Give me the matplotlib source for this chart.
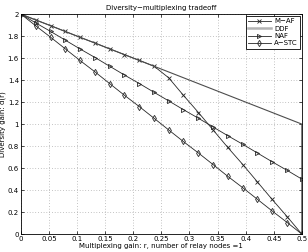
import matplotlib
matplotlib.use('Agg')
import matplotlib.pyplot as plt
import numpy as np

# Multiplexing gain samples (20 points between 0 and 0.5)
r = [0, 0.026, 0.053, 0.079, 0.105, 0.132, 0.158, 0.184, 0.211, 0.237,
     0.263, 0.289, 0.316, 0.342, 0.368, 0.395, 0.421, 0.447, 0.474, 0.5]

m_af = [2, 1.947, 1.895, 1.842, 1.789, 1.737, 1.684, 1.632, 1.579, 1.526,
        1.421, 1.263, 1.105, 0.947, 0.789, 0.632, 0.474, 0.316, 0.158, 0]
naf = [2, 1.921, 1.842, 1.763, 1.684, 1.605, 1.526, 1.447, 1.368, 1.289,
       1.211, 1.132, 1.053, 0.974, 0.895, 0.816, 0.737, 0.658, 0.579, 0.5]
a_stc = [2, 1.895, 1.789, 1.684, 1.579, 1.474, 1.368, 1.263, 1.158, 1.053,
         0.947, 0.842, 0.737, 0.632, 0.526, 0.421, 0.316, 0.211, 0.105, 0]
ddf_r = [0, 0.5, 0.5]
ddf = [2, 1, 0]

xticks = [0, 0.05, 0.1, 0.15, 0.2, 0.25, 0.3, 0.35, 0.4, 0.45, 0.5]
xticklabels = ['0', '0.05', '0.1', '0.15', '0.2', '0.25', '0.3', '0.35', '0.4', '0.45', '0.5']
yticks = [0, 0.2, 0.4, 0.6, 0.8, 1.0, 1.2, 1.4, 1.6, 1.8, 2.0]
yticklabels = ['0', '0.2', '0.4', '0.6', '0.8', '1', '1.2', '1.4', '1.6', '1.8', '2']

fig = plt.figure(figsize=(3.08, 2.52), dpi=100)
ax = fig.add_axes([0.068, 0.071, 0.912, 0.873])

lc = '0.15'
ax.plot(r, m_af, color=lc, lw=0.6, marker='x', ms=2.5, mew=0.6, label='M\u2212AF')
ax.plot(ddf_r, ddf, color='0.3', lw=0.8, label='DDF')
ax.plot(r, naf, color=lc, lw=0.6, marker='>', ms=3, mew=0.6, mfc='none', label='NAF')
ax.plot(r, a_stc, color=lc, lw=0.6, marker='d', ms=3.2, mew=0.6, mfc='none', label='A\u2212STC')

ax.set_xlim(0, 0.5)
ax.set_ylim(0, 2)
ax.set_xticks(xticks)
ax.set_xticklabels(xticklabels)
ax.set_yticks(yticks)
ax.set_yticklabels(yticklabels)
ax.tick_params(direction='in', length=2.5, width=0.5, labelsize=5, pad=1.5,
               top=True, right=True)
ax.grid(color='0.55', linestyle=(0, (1, 3)), linewidth=0.5)
for s in ax.spines.values():
    s.set_linewidth(0.6)

ax.set_title('Diversity\u2212multiplexing tradeoff', fontsize=5, pad=3)
ax.set_xlabel('Multiplexing gain: r, number of relay nodes =1', fontsize=5, labelpad=0.5)
ax.set_ylabel('Diversity gain: d(r)', fontsize=5, labelpad=1)

leg = ax.legend(loc='upper right', fontsize=5, fancybox=False, framealpha=1,
                edgecolor='black', handlelength=3.2, borderpad=0.3,
                labelspacing=0.2, handletextpad=0.5, borderaxespad=0.3)
leg.get_frame().set_linewidth(0.6)
# DDF legend entry is drawn as a thick light grey line
leg.get_lines()[1].set_color('0.7')
leg.get_lines()[1].set_linewidth(1.8)

fig.savefig('out.png', dpi=100)
